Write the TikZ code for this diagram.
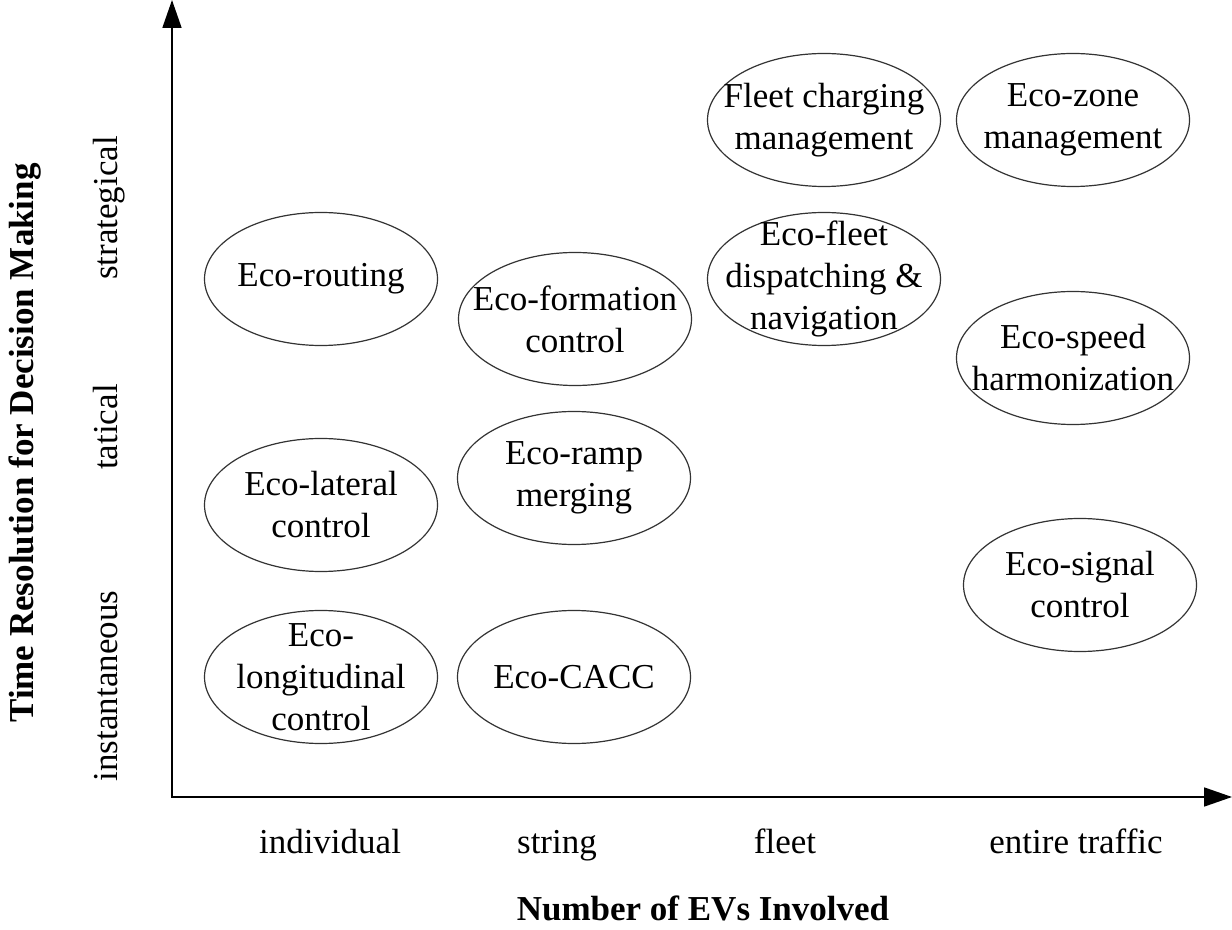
\documentclass[tikz,border=0pt]{standalone}
\usepackage{fontspec}
\setmainfont{Liberation Serif}
\usetikzlibrary{shapes.geometric,arrows.meta}

\tikzset{
  eco/.style={ellipse, draw=black!80, line width=0.6pt,
    minimum width=116.5pt, minimum height=66.5pt, inner sep=0pt},
  ecotxt/.style={align=center, inner sep=0pt, font=\fontsize{17.5pt}{21pt}\selectfont},
  axis/.style={line width=0.9pt,
    {Triangle[length=14pt,width=9.5pt]}-{Triangle[length=14pt,width=9.5pt]}},
  ticklbl/.style={anchor=base, inner sep=0pt, font=\fontsize{17.5pt}{21pt}\selectfont},
  axlbl/.style={anchor=base, inner sep=0pt, font=\fontsize{17.5pt}{21pt}\selectfont\bfseries},
}

\begin{document}
\begin{tikzpicture}[x=0.5pt,y=-0.5pt]
    %\draw[help lines,step=50] (0,0) grid (1232,930);
    \useasboundingbox (0,0) rectangle (1232,930);

    % axes
    \coordinate (origin) at (172,797);
    \coordinate (ytip) at (172,0);
    \coordinate (xtip) at (1232,797);
    \draw[axis] (ytip) -- (origin) -- (xtip);

    % axis titles
    \node[axlbl] (xtitle) at (703,920) {Number of EVs Involved};
    \node[axlbl, rotate=90] (ytitle) at (33,443) {Time Resolution for Decision Making};

    % horizontal ticks
    \node[ticklbl] (individual) at (330,853) {individual};
    \node[ticklbl] (string) at (557,853) {string};
    \node[ticklbl] (fleet) at (785,853) {fleet};
    \node[ticklbl] (traffic) at (1076,853) {entire traffic};

    % vertical ticks
    \node[ticklbl, rotate=90] (strategical) at (117,208) {strategical};
    \node[ticklbl, rotate=90] (tatical) at (117,427) {tatical};
    \node[ticklbl, rotate=90] (instant) at (117,686) {instantaneous};

    % applications
    \node[eco, label={[ecotxt]center:Eco-routing}] (routing) at (321,279) {};
    \node[eco, label={[ecotxt]center:{Eco-lateral\\control}}] (lateral) at (321,505) {};
    \node[eco, label={[ecotxt]center:{Eco-\\longitudinal\\control}}] (longitudinal) at (321,677) {};
    \node[eco, label={[ecotxt]center:{Eco-formation\\control}}] (formation) at (575,319) {};
    \node[eco, label={[ecotxt]center:{Eco-ramp\\merging}}] (ramp) at (574,478) {};
    \node[eco, label={[ecotxt]center:Eco-CACC}] (cacc) at (574,677) {};
    \node[eco, label={[ecotxt]center:{Fleet charging\\management}}] (charging) at (824,120) {};
    \node[eco, label={[ecotxt]center:{Eco-fleet\\dispatching \&\\navigation}}] (dispatching) at (824,279) {};
    \node[eco, label={[ecotxt]center:{Eco-zone\\management}}] (zone) at (1073,120) {};
    \node[eco, label={[ecotxt]center:{Eco-speed\\harmonization}}] (speed) at (1073,358) {};
    \node[eco, label={[ecotxt]center:{Eco-signal\\control}}] (signal) at (1080,585) {};
\end{tikzpicture}
\end{document}
